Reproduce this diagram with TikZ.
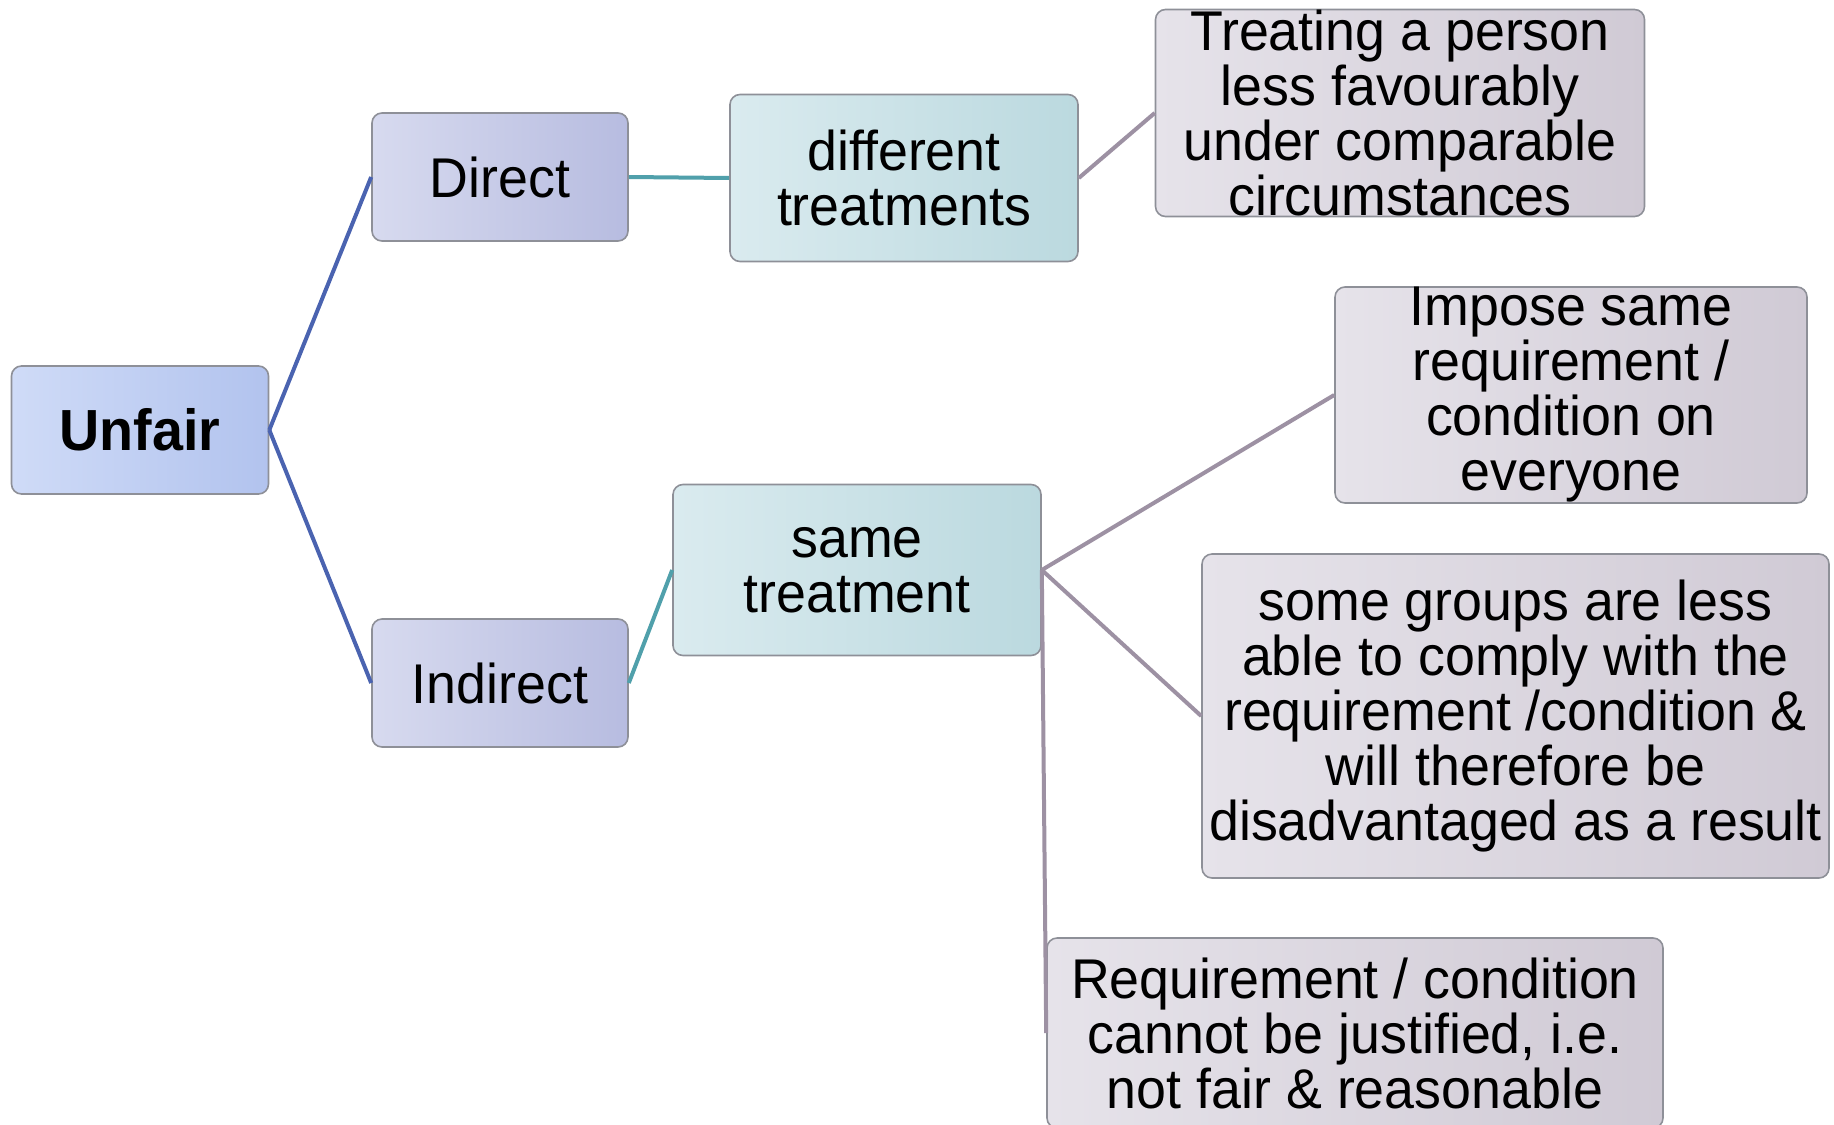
\documentclass[tikz,border=0pt]{standalone}
\usepackage{fontspec}
\setmainfont[FakeStretch=0.96]{Liberation Sans}
\usepackage{tikz}

\definecolor{rootL}{HTML}{CFDBF7}
\definecolor{rootR}{HTML}{B2C3EE}
\definecolor{midL}{HTML}{D7DAEF}
\definecolor{midR}{HTML}{B7BCE0}
\definecolor{tealL}{HTML}{DAEBEF}
\definecolor{tealR}{HTML}{BBD9DF}
\definecolor{greyL}{HTML}{E6E3EA}
\definecolor{greyR}{HTML}{D0CAD5}
\definecolor{boxline}{HTML}{8E9098}
\definecolor{blueline}{HTML}{4A63B0}
\definecolor{tealline}{HTML}{50A0AB}
\definecolor{mauveline}{HTML}{9D91A3}

\begin{document}
\begin{tikzpicture}[x=0.5pt, y=-0.5pt,
    every node/.style={draw=boxline, line width=0.8pt, rounded corners=5pt,
        align=center, inner sep=0pt, text=black,
        font=\fontsize{28}{27.5}\selectfont},
    rootbox/.style={left color=rootL, right color=rootR},
    midbox/.style={left color=midL, right color=midR},
    tealbox/.style={left color=tealL, right color=tealR},
    greybox/.style={left color=greyL, right color=greyR},
    every path/.style={line width=2pt}]

    \useasboundingbox (0,0) rectangle (1834,1124);

    \node[rootbox,
        minimum width=128.5pt,
        minimum height=64pt,
        font=\fontsize{29}{28}\selectfont\bfseries
        ] (unfair) at (140,430) {Unfair};

    \node[midbox,
        minimum width=128pt,
        minimum height=64pt
        ] (direct) at (500,177) {Direct};

    \node[midbox,
        minimum width=128pt,
        minimum height=64pt
        ] (indirect) at (500,683) {Indirect};

    \node[tealbox,
        minimum width=174pt,
        minimum height=83.5pt
        ] (diff) at (904,178) {different\\treatments};

    \node[tealbox,
        minimum width=184pt,
        minimum height=85.5pt
        ] (same) at (857,570) {same\\treatment};

    \node[greybox,
        minimum width=244.5pt,
        minimum height=103.5pt
        ] (treating) at (1400,113) {Treating a person\\less favourably\\under comparable\\circumstances};

    \node[greybox,
        minimum width=236pt,
        minimum height=108pt
        ] (impose) at (1571,395) {Impose same\\requirement /\\condition on\\everyone};

    \node[greybox,
        minimum width=313.5pt,
        minimum height=162pt
        ] (groups) at (1515.5,716) {some groups are less\\able to comply with the\\requirement /condition \&\\will therefore be\\disadvantaged as a result};

    \node[greybox,
        minimum width=308pt,
        minimum height=95pt
        ] (justify) at (1355,1033) {Requirement / condition\\cannot be justified, i.e.\\not fair \& reasonable};


    \draw[blueline] (unfair.east) -- (direct.west);
    \draw[blueline] (unfair.east) -- (indirect.west);

    \draw[tealline] (direct.east) -- (diff.west);
    \draw[tealline] (indirect.east) -- (same.west);

    \draw[mauveline] (diff.east) -- (treating.west);
    \draw[mauveline] (same.east) -- (impose.west);
    \draw[mauveline] (same.east) -- (groups.west);
    \draw[mauveline] (same.east) -- (justify.west);

\end{tikzpicture}
\end{document}
